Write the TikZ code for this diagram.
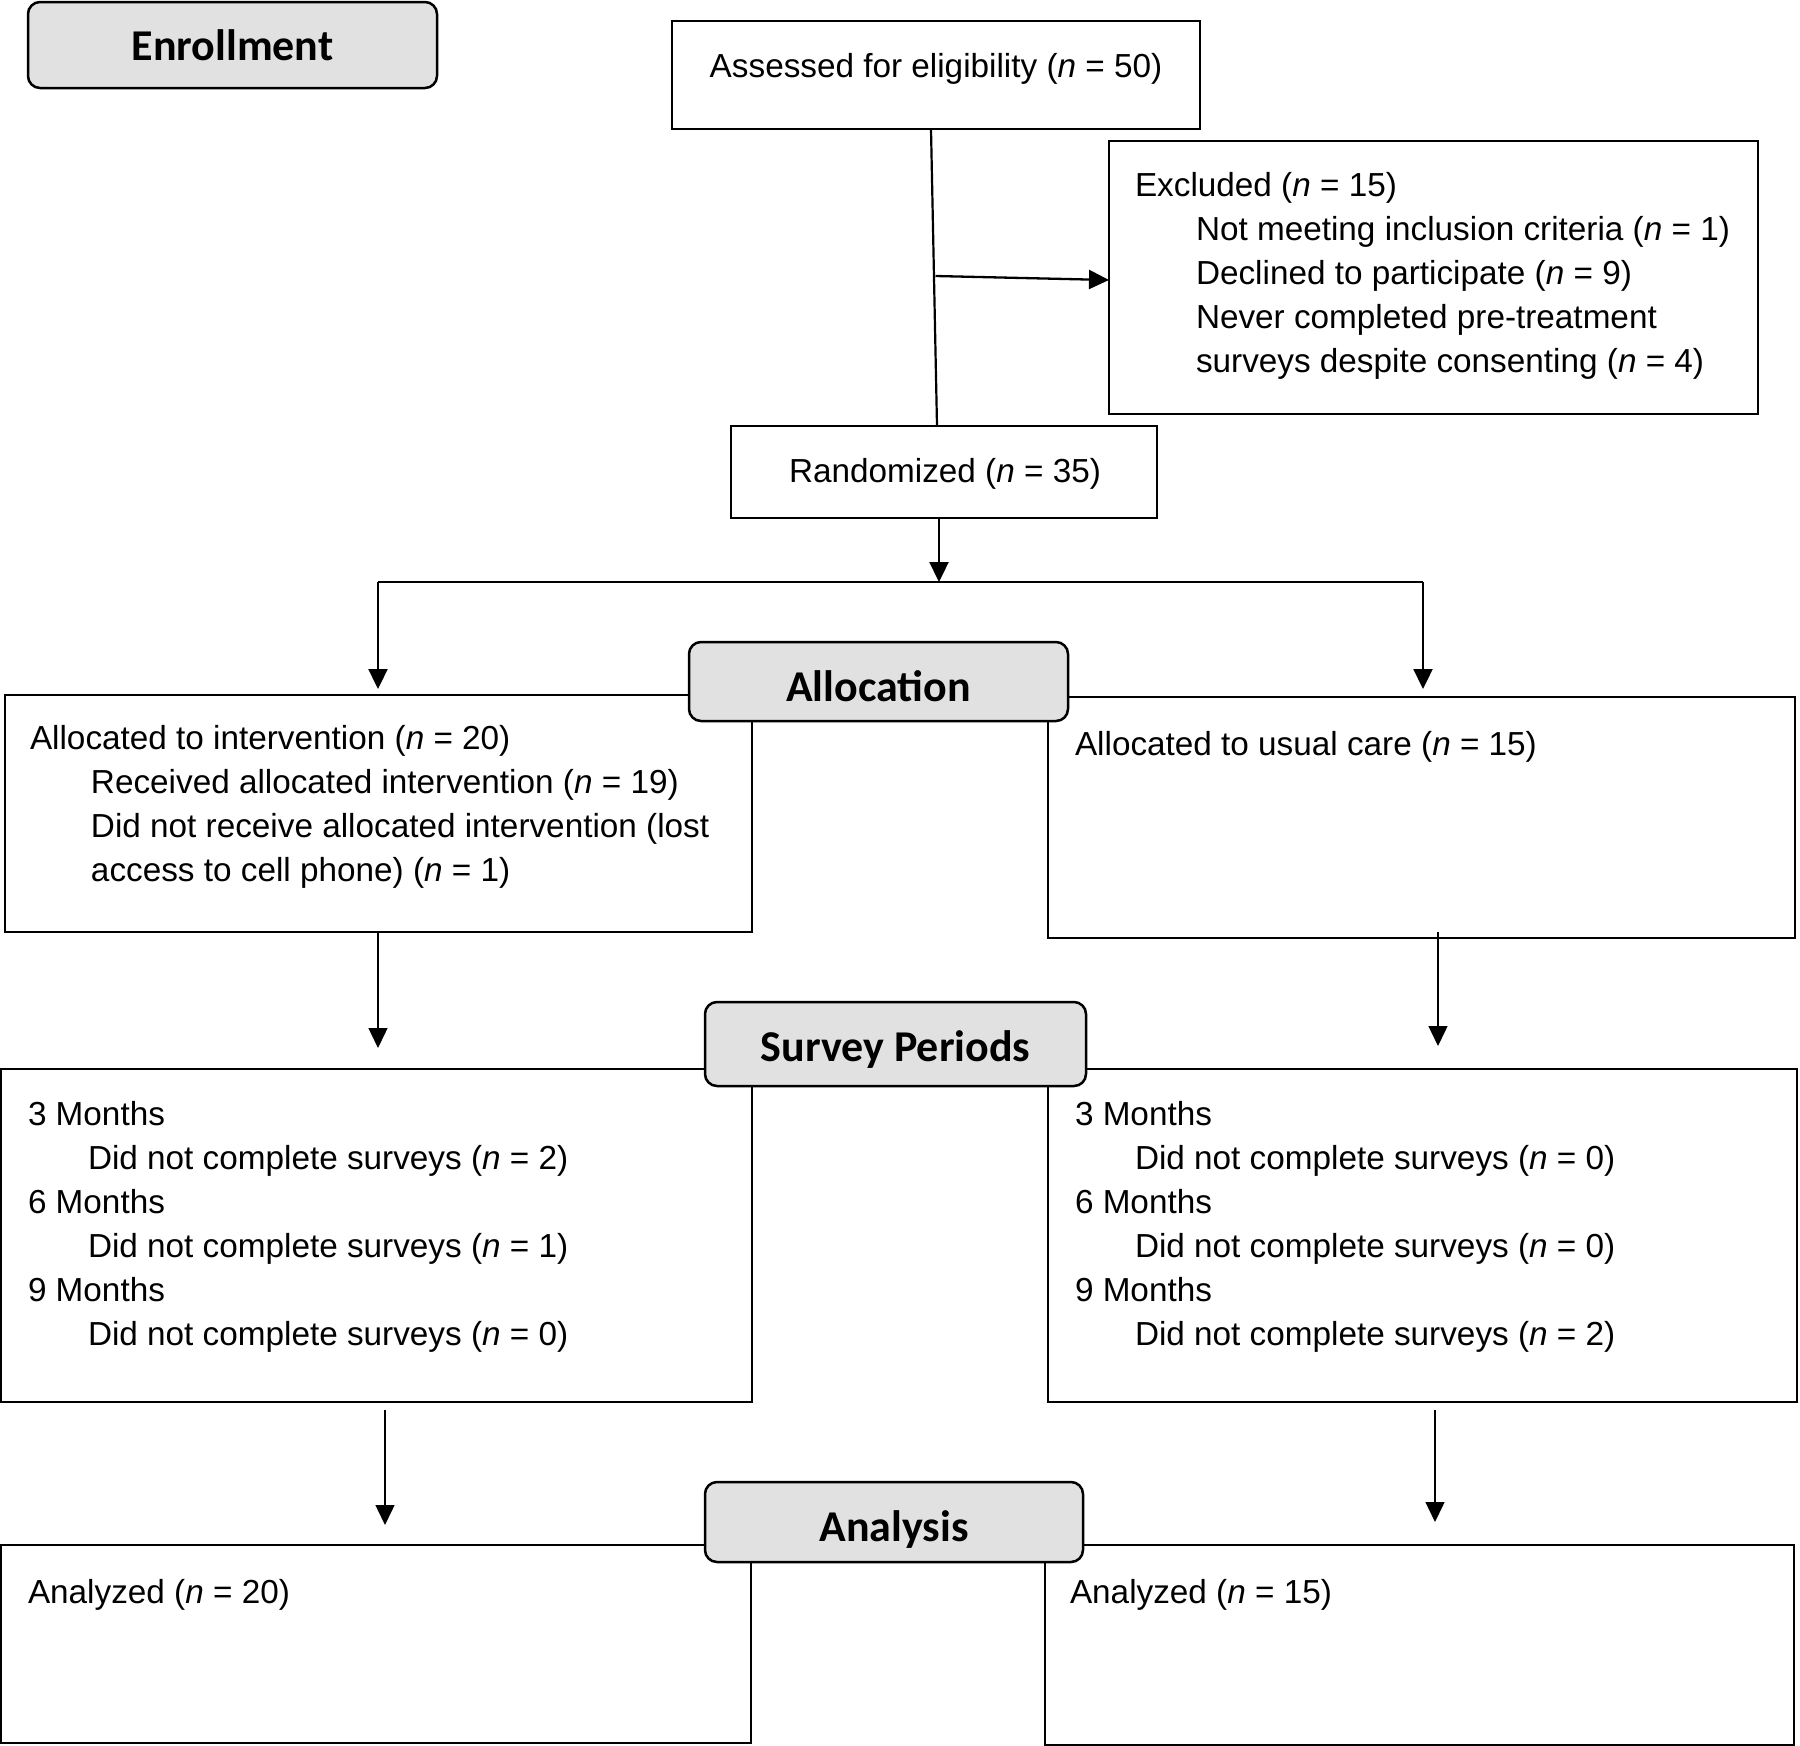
\documentclass[tikz,border=0pt]{standalone}
\usepackage{fontspec}
\setmainfont{Liberation Sans}
\newfontfamily\hdfont{Carlito}
\usetikzlibrary{arrows.meta}
\definecolor{hdgray}{HTML}{E1E1E1}
\newcommand{\hdlow}[2]{\raisebox{-#1}[\height][\depth]{#2}}
\begin{document}
\begin{tikzpicture}[x=1pt,y=-1pt,
  box/.style={draw,line width=2.2pt,inner sep=0pt,outer sep=0pt,fill=white},
  hdr/.style={draw,line width=2.5pt,rounded corners=12pt,fill=hdgray,inner sep=0pt,outer sep=0pt,font=\hdfont\bfseries\fontsize{44}{50}\selectfont},
  txt/.style={inner sep=0pt,outer sep=0pt,align=left,font=\fontsize{33.3}{44}\selectfont},
  bigarrow/.style={line width=2.3pt,-{Triangle[length=20pt,width=19pt]}},
  smallarrow/.style={line width=1.4pt,-{Triangle[length=20pt,width=19pt]}},
  ]
\useasboundingbox (0,0) rectangle (1800,1746);
\fill[white] (0,0) rectangle (1800,1746);

% boxes
\node[box,minimum width=528pt,minimum height=108pt] (assess) at (936,75) {};
\node[box,minimum width=649pt,minimum height=273pt] (excl) at (1433.5,277.5) {};
\node[box,minimum width=426pt,minimum height=92pt] (rand) at (944,472) {};
\node[box,minimum width=747pt,minimum height=237pt] (lalloc) at (378.5,813.5) {};
\node[box,minimum width=747pt,minimum height=241pt] (ralloc) at (1421.5,817.5) {};
\node[box,minimum width=751pt,minimum height=333pt] (lsurv) at (376.5,1235.5) {};
\node[box,minimum width=749pt,minimum height=333pt] (rsurv) at (1422.5,1235.5) {};
\node[box,minimum width=750pt,minimum height=198pt] (lanal) at (376,1644) {};
\node[box,minimum width=749pt,minimum height=200pt] (ranal) at (1419.5,1645) {};

% headers
\node[hdr,minimum width=409pt,minimum height=86pt] (enr) at (232.5,45) {Enrollment};
\node[hdr,minimum width=379pt,minimum height=79pt] (alloc) at (878.5,681.5) {\hdlow{5pt}{Allocation}};
\node[hdr,minimum width=381pt,minimum height=84pt] (surv) at (895.5,1044) {\hdlow{6pt}{Survey Periods}};
\node[hdr,minimum width=378pt,minimum height=80pt] (anal) at (894,1522) {\hdlow{8pt}{Analysis}};

% texts
\node[txt] (assesstxt) at (936,68.5) {Assessed for eligibility (\textit{n} = 50)};
\node[txt,anchor=north west] (excltxt) at (1135,172.5) {Excluded (\textit{n} = 15)\\
\hspace*{61pt}Not meeting inclusion criteria (\textit{n} = 1)\\
\hspace*{61pt}Declined to participate (\textit{n} = 9)\\
\hspace*{61pt}Never completed pre-treatment\\
\hspace*{61pt}surveys despite consenting (\textit{n} = 4)};
\node[txt] (randtxt) at (945,473.5) {Randomized (\textit{n} = 35)};
\node[txt,anchor=north west] (lalloctxt) at (30,725.5) {Allocated to intervention (\textit{n} = 20)\\
\hspace*{61pt}Received allocated intervention (\textit{n} = 19)\\
\hspace*{61pt}Did not receive allocated intervention (lost\\
\hspace*{61pt}access to cell phone) (\textit{n} = 1)};
\node[txt,anchor=west] (ralloctxt) at (1075,746.5) {Allocated to usual care (\textit{n} = 15)};
\node[txt,anchor=north west] (lsurvtxt) at (28,1101.5) {3 Months\\
\hspace*{60pt}Did not complete surveys (\textit{n} = 2)\\
6 Months\\
\hspace*{60pt}Did not complete surveys (\textit{n} = 1)\\
9 Months\\
\hspace*{60pt}Did not complete surveys (\textit{n} = 0)};
\node[txt,anchor=north west] (rsurvtxt) at (1075,1101.5) {3 Months\\
\hspace*{60pt}Did not complete surveys (\textit{n} = 0)\\
6 Months\\
\hspace*{60pt}Did not complete surveys (\textit{n} = 0)\\
9 Months\\
\hspace*{60pt}Did not complete surveys (\textit{n} = 2)};
\node[txt,anchor=west] (lanaltxt) at (28,1594.5) {Analyzed (\textit{n} = 20)};
\node[txt,anchor=west] (ranaltxt) at (1070,1594.5) {Analyzed (\textit{n} = 15)};

% connectors
\coordinate (vtop) at (assess.south -| 931,0);
\coordinate (vbot) at (rand.north -| 937,0);
\draw[line width=2.2pt] (vtop) -- (vbot);
\coordinate (j1) at (935.5,276);
\coordinate (j2) at (excl.west |- 0,280);
\draw[bigarrow] (j1) -- (j2);
\coordinate (split) at (939,582);
\coordinate (sl) at (378,582);
\coordinate (sr) at (1423,582);
\draw[bigarrow] (split |- rand.south) -- (split);
\draw[line width=2.3pt] (sl) -- (sr);
\draw[bigarrow] (sl) -- (378,689);
\draw[bigarrow] (sr) -- (1423,689);

\coordinate (a1) at (378,932);
\coordinate (a2) at (1438,932);
\draw[smallarrow] (a1) -- (378,1048);
\draw[smallarrow] (a2) -- (1438,1046);
\coordinate (b1) at (385,1410);
\coordinate (b2) at (1435,1410);
\draw[smallarrow] (b1) -- (385,1525);
\draw[smallarrow] (b2) -- (1435,1522);
\end{tikzpicture}
\end{document}
